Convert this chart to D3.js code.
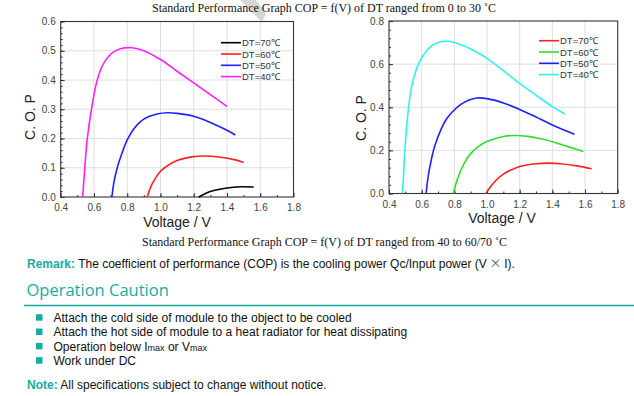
<!DOCTYPE html>
<html>
<head>
<meta charset="utf-8">
<script src="https://cdn.jsdelivr.net/npm/d3@7"></script>
<style>
  body { margin: 0; background: #fff; }
  svg { display: block; }
</style>
</head>
<body>
<div id="chart"></div>
<script>
// --- data ---
const seriesNames = ["DT=70℃", "DT=60℃", "DT=50℃", "DT=40℃"];

// left chart: DT ranged from 40 to 60/70
const leftDT70 = [[1.23,0],[1.27,0.012],[1.32,0.022],[1.4,0.031],[1.48,0.035],[1.56,0.034]];
const leftDT60 = [[0.92,0],[0.95,0.045],[1.0,0.088],[1.05,0.11],[1.1,0.125],[1.2,0.138],[1.27,0.14],[1.35,0.137],[1.45,0.127],[1.5,0.118]];
const leftDT50 = [[0.708,0],[0.72,0.05],[0.74,0.1],[0.77,0.152],[0.80,0.195],[0.84,0.233],[0.88,0.258],[0.93,0.275],[0.98,0.284],[1.04,0.288],[1.1,0.286],[1.2,0.276],[1.3,0.255],[1.4,0.228],[1.45,0.212]];
const leftDT40 = [[0.532,0],[0.545,0.1],[0.56,0.2],[0.585,0.3],[0.615,0.39],[0.64,0.435],[0.67,0.468],[0.71,0.493],[0.76,0.507],[0.83,0.51],[0.9,0.5],[1.0,0.47],[1.1,0.43],[1.2,0.39],[1.3,0.35],[1.4,0.31]];

// right chart: DT ranged from 0 to 30
const rightDT70 = [[0.994,0],[1.02,0.03],[1.06,0.065],[1.1,0.09],[1.15,0.11],[1.2,0.125],[1.3,0.138],[1.38,0.141],[1.45,0.138],[1.55,0.128],[1.64,0.115]];
const rightDT60 = [[0.794,0],[0.82,0.07],[0.86,0.14],[0.9,0.185],[0.95,0.22],[1.0,0.241],[1.1,0.264],[1.16,0.269],[1.25,0.265],[1.35,0.25],[1.45,0.228],[1.59,0.195]];
const rightDT50 = [[0.627,0],[0.64,0.08],[0.66,0.16],[0.68,0.22],[0.72,0.3],[0.75,0.343],[0.79,0.38],[0.84,0.413],[0.89,0.434],[0.94,0.443],[1.0,0.44],[1.1,0.42],[1.2,0.39],[1.3,0.355],[1.4,0.318],[1.535,0.275]];
const rightDT40 = [[0.482,0],[0.49,0.1],[0.497,0.2],[0.507,0.3],[0.52,0.4],[0.54,0.5],[0.58,0.6],[0.64,0.67],[0.70,0.70],[0.75,0.706],[0.80,0.70],[0.9,0.67],[1.0,0.627],[1.1,0.57],[1.2,0.511],[1.3,0.456],[1.4,0.403],[1.48,0.368]];

const xTicks = [0.4, 0.6, 0.8, 1.0, 1.2, 1.4, 1.6, 1.8];
const leftYTicks = [0, 0.1, 0.2, 0.3, 0.4, 0.5, 0.6];
const rightYTicks = [0, 0.2, 0.4, 0.6, 0.8];

const bullets = [
  "Attach the cold side of module to the object to be cooled",
  "Attach the hot side of module to a heat radiator for heat dissipating",
  null, // Operation below Imax or Vmax (built with subscripts below)
  "Work under DC"
];

const W = 634, H = 396;
const teal = "#17aba3";

const svg = d3.select("#chart").append("svg")
  .attr("width", W)
  .attr("height", H);

svg.append("rect").attr("width", W).attr("height", H).attr("fill", "#fff");

// faint watermark fragment at top
svg.append("path")
  .attr("d", "M240,0 L256,0 L266,14 L262,22 Z")
  .attr("fill", "#d6d6d6");

const line = (x, y) => d3.line()
  .x(d => x(d[0]))
  .y(d => y(d[1]))
  .curve(d3.curveCatmullRom.alpha(0.5));

function drawChart(opt) {
  const x = d3.scaleLinear().domain([0.4, 1.8]).range([opt.left, opt.right]);
  const y = d3.scaleLinear().domain([0, opt.yMax]).range([opt.bottom, opt.top]);
  const g = svg.append("g");

  // grid
  g.append("g").selectAll("line").data(xTicks.slice(1, -1)).enter().append("line")
    .attr("x1", d => x(d)).attr("x2", d => x(d))
    .attr("y1", opt.top).attr("y2", opt.bottom)
    .attr("stroke", "#dedede").attr("stroke-width", 1);
  g.append("g").selectAll("line").data(opt.yTicks.slice(1, -1)).enter().append("line")
    .attr("x1", opt.left).attr("x2", opt.right)
    .attr("y1", d => y(d)).attr("y2", d => y(d))
    .attr("stroke", "#dedede").attr("stroke-width", 1);

  // axes (ticks inside)
  const xAxis = g.append("g")
    .attr("transform", "translate(0," + opt.bottom + ")")
    .call(d3.axisBottom(x).tickValues(xTicks).tickSizeInner(-4).tickSizeOuter(0).tickPadding(7).tickFormat(d3.format(".1f")));
  const xMinor = g.append("g")
    .attr("transform", "translate(0," + opt.bottom + ")")
    .call(d3.axisBottom(x).tickValues(d3.range(0.5, 1.8, 0.1)).tickSizeInner(-2).tickSizeOuter(0).tickFormat(""));
  const yAxis = g.append("g")
    .attr("transform", "translate(" + opt.left + ",0)")
    .call(d3.axisLeft(y).tickValues(opt.yTicks).tickSizeInner(-4).tickSizeOuter(0).tickPadding(5).tickFormat(d3.format(".1f")));
  const yMinor = g.append("g")
    .attr("transform", "translate(" + opt.left + ",0)")
    .call(d3.axisLeft(y).tickValues(d3.range(0, opt.yMax + 1e-9, opt.yMinor)).tickSizeInner(-2).tickSizeOuter(0).tickFormat(""));

  [xAxis, xMinor, yAxis, yMinor].forEach(a => {
    a.select(".domain").remove();
    a.selectAll(".tick line").attr("stroke", "#333");
    a.selectAll("text")
      .attr("font-family", "Liberation Sans, Arial, sans-serif")
      .attr("font-size", 10)
      .attr("fill", "#444");
  });

  // frame
  g.append("rect")
    .attr("x", opt.left).attr("y", opt.top)
    .attr("width", opt.right - opt.left).attr("height", opt.bottom - opt.top)
    .attr("fill", "none").attr("stroke", "#333").attr("stroke-width", 1.1);

  // curves
  opt.series.forEach((s, i) => {
    g.append("path")
      .datum(s)
      .attr("d", line(x, y))
      .attr("fill", "none")
      .attr("stroke", opt.colors[i])
      .attr("stroke-width", 1.6);
  });

  // legend
  const lg = g.append("g");
  seriesNames.forEach((n, i) => {
    const ly = opt.legendY + i * 11.3;
    lg.append("line")
      .attr("x1", opt.legendX).attr("x2", opt.legendX + 20)
      .attr("y1", ly).attr("y2", ly)
      .attr("stroke", opt.colors[i]).attr("stroke-width", 1.6);
    lg.append("text")
      .attr("x", opt.legendX + 21).attr("y", ly + 3.5)
      .attr("font-family", "Liberation Sans, Arial, sans-serif")
      .attr("font-size", 9.5)
      .attr("fill", "#333")
      .text(n);
  });

  // axis titles
  g.append("text")
    .attr("x", opt.xLabelX).attr("y", opt.xLabelY)
    .attr("text-anchor", "middle")
    .attr("font-family", "Liberation Sans, Arial, sans-serif")
    .attr("font-size", 14)
    .attr("fill", "#222")
    .text("Voltage / V");
  g.append("text")
    .attr("transform", "translate(" + opt.yLabelX + "," + opt.yLabelY + ") rotate(-90)")
    .attr("text-anchor", "middle")
    .attr("font-family", "Liberation Sans, Arial, sans-serif")
    .attr("font-size", 14)
    .attr("fill", "#222")
    .text("C. O. P");
}

drawChart({
  left: 60.7, right: 293.5, top: 21.5, bottom: 197,
  yMax: 0.6, yTicks: leftYTicks, yMinor: 0.02,
  series: [leftDT70, leftDT60, leftDT50, leftDT40],
  colors: ["#000000", "#ff2020", "#2020ff", "#ff20ff"],
  legendX: 221, legendY: 42.7,
  xLabelX: 177, xLabelY: 227, yLabelX: 35, yLabelY: 117
});

drawChart({
  left: 389, right: 617.7, top: 21, bottom: 193.5,
  yMax: 0.8, yTicks: rightYTicks, yMinor: 0.04,
  series: [rightDT70, rightDT60, rightDT50, rightDT40],
  colors: ["#ff2020", "#30dd30", "#2020ff", "#30f0f0"],
  legendX: 539, legendY: 40.7,
  xLabelX: 502, xLabelY: 223, yLabelX: 366, yLabelY: 118
});

// captions
const serif = "Liberation Serif, Times New Roman, serif";
svg.append("text")
  .attr("x", 152).attr("y", 12)
  .attr("font-family", serif).attr("font-size", 12)
  .attr("textLength", 344).attr("lengthAdjust", "spacingAndGlyphs")
  .attr("fill", "#111")
  .text("Standard Performance Graph COP = f(V) of DT ranged from 0 to 30 ˚C");
svg.append("text")
  .attr("x", 142).attr("y", 246)
  .attr("font-family", serif).attr("font-size", 12)
  .attr("textLength", 365).attr("lengthAdjust", "spacingAndGlyphs")
  .attr("fill", "#111")
  .text("Standard Performance Graph COP = f(V) of DT ranged from 40 to 60/70 ˚C");

const sans = "Liberation Sans, Arial, sans-serif";
const remark = svg.append("text")
  .attr("x", 27).attr("y", 268)
  .attr("font-family", sans).attr("font-size", 12)
  .attr("fill", "#111");
remark.append("tspan").attr("font-weight", "bold").attr("fill", teal).text("Remark:");
remark.append("tspan").text(" The coefficient of performance (COP) is the cooling power Qc/Input power (V");
remark.append("tspan").attr("font-family", "Noto Sans CJK SC, sans-serif").attr("fill", "#555").text(" × ");
remark.append("tspan").text("I).");

svg.append("text")
  .attr("x", 26.5).attr("y", 296)
  .attr("font-family", "Open Sans, Noto Sans, sans-serif")
  .attr("font-size", 16.5)
  .attr("fill", teal)
  .text("Operation Caution");

svg.append("line")
  .attr("x1", 24).attr("x2", W)
  .attr("y1", 305.5).attr("y2", 305.5)
  .attr("stroke", teal).attr("stroke-width", 1.3);

const bulletY = d3.scaleLinear().domain([0, 3]).range([317.7, 360.7]);
bullets.forEach((b, i) => {
  const cy = bulletY(i);
  svg.append("rect")
    .attr("x", 36).attr("y", cy - 3.5)
    .attr("width", 6.5).attr("height", 6.5)
    .attr("fill", teal);
  const t = svg.append("text")
    .attr("x", 53.5).attr("y", cy + 4.2)
    .attr("font-family", sans).attr("font-size", 12)
    .attr("fill", "#111");
  if (b) {
    t.text(b);
  } else {
    t.append("tspan").text("Operation below I");
    t.append("tspan").attr("font-size", 9).text("max");
    t.append("tspan").text(" or V");
    t.append("tspan").attr("font-size", 9).text("max");
  }
});

const note = svg.append("text")
  .attr("x", 27).attr("y", 389)
  .attr("font-family", sans).attr("font-size", 12)
  .attr("fill", "#111");
note.append("tspan").attr("font-weight", "bold").attr("fill", teal).text("Note:");
note.append("tspan").text(" All specifications subject to change without notice.");
</script>
</body>
</html>
